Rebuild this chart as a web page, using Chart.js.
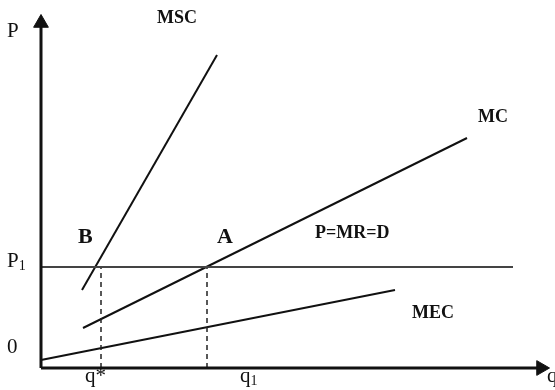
<!DOCTYPE html>
<html>
<head>
<meta charset="utf-8">
<script src="https://cdn.jsdelivr.net/npm/chart.js@4/dist/chart.umd.min.js"></script>
<style>
  body { margin: 0; background: #fff; }
  canvas { display: block; }
</style>
</head>
<body>
<canvas id="chart" width="555" height="390"></canvas>
<script>
// values in diagram units (quantity on x, price on y)
const P1 = 2.02;
const qStar = 1.2;
const q1 = 3.32;

const mscQ = [0.82, 3.52];
const mscP = [1.56, 6.26];
const mcQ = [0.84, 8.52];
const mcP = [0.80, 4.60];
const mecQ = [0, 7.08];
const mecP = [0.16, 1.56];
const demandQ = [0, 9.44];

const curveNames = ['MSC', 'MC', 'MEC', 'P=MR=D'];
const pointNames = ['B', 'A'];
const yTickLabels = ['0', 'P', '1'];
const xTickLabels = ['q*', 'q', '1'];
const axisNames = ['P', 'q'];

const xMax = 10;
const yMax = 7;

const pts = (xs, ys) => xs.map((x, i) => ({ x: x, y: ys[i] }));

const solid = (data, color, width) => ({
    data: data,
    showLine: true,
    borderColor: color,
    borderWidth: width,
    pointRadius: 0,
    clip: false
});

const dashed = (q) => ({
    data: [{ x: q, y: 0 }, { x: q, y: P1 }],
    showLine: true,
    borderColor: '#222',
    borderWidth: 1.5,
    borderDash: [5, 4],
    pointRadius: 0,
    clip: false
});

const arrowAxis = (data, rot) => ({
    data: data,
    showLine: true,
    borderColor: '#111',
    borderWidth: 3,
    pointRadius: [0, 8.5],
    pointStyle: 'triangle',
    rotation: rot,
    pointBackgroundColor: '#111',
    pointBorderColor: '#111',
    pointBorderWidth: 1,
    clip: false
});

const serif = '"Liberation Serif", "Times New Roman", serif';

const textPlugin = {
    id: 'texts',
    afterDatasetsDraw(chart) {
        const { ctx, scales: { x, y } } = chart;
        const X = v => x.getPixelForValue(v);
        const Y = v => y.getPixelForValue(v);
        ctx.save();
        ctx.fillStyle = '#111';
        ctx.textBaseline = 'alphabetic';
        ctx.textAlign = 'left';

        const put = (txt, q, p, font) => {
            ctx.font = font;
            ctx.fillText(txt, X(q), Y(p));
            return ctx.measureText(txt).width;
        };
        const sub = (base, s, q, p, size) => {
            const w = put(base, q, p, size + 'px ' + serif);
            ctx.font = Math.round(size * 0.68) + 'px ' + serif;
            ctx.fillText(s, X(q) + w, Y(p) + 3);
        };

        const bold = 'bold 18px ' + serif;
        put(curveNames[0], 2.32, 6.90, bold);
        put(curveNames[1], 8.74, 4.92, bold);
        put(curveNames[2], 7.42, 1.00, bold);
        put(curveNames[3], 5.48, 2.60, bold);

        const big = 'bold 22px ' + serif;
        put(pointNames[0], 0.74, 2.50, big);
        put(pointNames[1], 3.52, 2.50, big);

        put(axisNames[0], -0.68, 6.62, '21px ' + serif);
        put(yTickLabels[0], -0.68, 0.30, '21px ' + serif);
        sub(yTickLabels[1], yTickLabels[2], -0.68, P1, 21);

        put(xTickLabels[0], 0.88, -0.28, '21px ' + serif);
        sub(xTickLabels[1], xTickLabels[2], 3.98, -0.28, 21);
        put(axisNames[1], 10.12, -0.28, '21px ' + serif);
        ctx.restore();
    }
};

new Chart(document.getElementById('chart'), {
    type: 'scatter',
    data: {
        datasets: [
            arrowAxis([{ x: 0, y: 0 }, { x: xMax, y: 0 }], 90),
            arrowAxis([{ x: 0, y: 0 }, { x: 0, y: 6.9 }], 0),
            solid(pts(demandQ, [P1, P1]), '#444', 2),
            dashed(qStar),
            dashed(q1),
            solid(pts(mscQ, mscP), '#111', 2),
            solid(pts(mcQ, mcP), '#111', 2),
            solid(pts(mecQ, mecP), '#111', 2)
        ]
    },
    options: {
        responsive: false,
        animation: false,
        devicePixelRatio: 1,
        layout: { padding: { left: 41, right: 14, top: 18, bottom: 22 } },
        plugins: {
            legend: { display: false },
            tooltip: { enabled: false }
        },
        scales: {
            x: { type: 'linear', min: 0, max: xMax, display: false },
            y: { type: 'linear', min: 0, max: yMax, display: false }
        }
    },
    plugins: [textPlugin]
});
</script>
</body>
</html>
